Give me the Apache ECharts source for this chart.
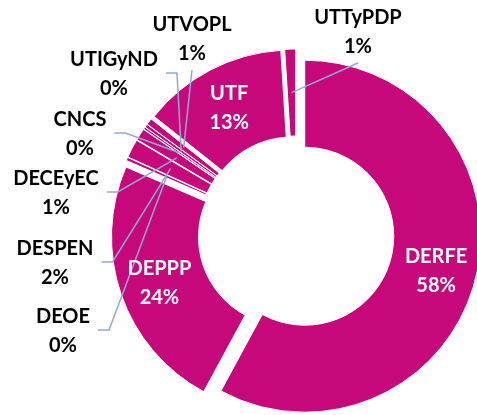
<!DOCTYPE html>
<html><head><meta charset="utf-8">
<script src="https://cdn.jsdelivr.net/npm/echarts@6/dist/echarts.min.js"></script>
<style>html,body{margin:0;padding:0;background:#fff}#c{width:477px;height:415px}</style>
</head><body><div id="c"></div>
<script>
// ---- data ----
const categories = ['DERFE','DEPPP','DEOE','DESPEN','DECEyEC','CNCS','UTIGyND','UTVOPL','UTF','UTTyPDP'];
const values = [57.9, 23.6, 0.3, 1.7, 1.1, 0.2, 0.3, 0.6, 13.3, 1.0];

// ---- layout / style ----
const CX = 296, CY = 234, R_IN = 89, R_OUT = 176, OFFSET = 9;
const labelPos = {
  UTTyPDP: [358, 32], UTVOPL: [192, 39], UTIGyND: [114, 74], CNCS: [80, 134],
  DECEyEC: [56, 193], DESPEN: [55, 263], DEOE: [63, 331]
};
const MAGENTA = '#C7087A', LEADER = '#8EAADB', FONT = 'Lato';

const total = values.reduce((a, b) => a + b, 0);
function midAngle(i) {
  let before = 0;
  for (let k = 0; k < i; k++) before += values[k];
  return (before + values[i] / 2) / total * 2 * Math.PI;
}
function anchor(i) {
  const mid = midAngle(i);
  const rm = (R_IN + R_OUT) / 2;
  return [CX + (rm + OFFSET) * Math.sin(mid), CY - (rm + OFFSET) * Math.cos(mid)];
}

const chart = echarts.init(document.getElementById('c'), null, {renderer: 'canvas'});
const common = {
  type: 'pie', center: [CX, CY], radius: [R_IN, R_OUT],
  startAngle: 90, clockwise: true, avoidLabelOverlap: false, minShowLabelAngle: 0,
  emphasis: {disabled: true}
};
chart.setOption({
  animation: false,
  backgroundColor: '#fff',
  series: [
    // exploded donut slices
    Object.assign({}, common, {
      z: 2,
      selectedMode: 'multiple',
      selectedOffset: OFFSET,
      itemStyle: {color: MAGENTA, borderColor: '#fff', borderWidth: 1},
      select: {itemStyle: {color: MAGENTA, borderColor: '#fff', borderWidth: 1}},
      label: {show: false}, labelLine: {show: false},
      data: categories.map((n, i) => ({name: n, value: values[i], selected: true}))
    }),
    // labels and leader lines
    Object.assign({}, common, {
      z: 10,
      silent: true,
      itemStyle: {color: 'rgba(0,0,0,0)', borderWidth: 0},
      label: {
        fontFamily: FONT, fontWeight: 'bold', fontSize: 20, lineHeight: 29,
        formatter: p => p.name + '\n' + Math.round(p.percent) + '%'
      },
      labelLine: {show: true, lineStyle: {color: LEADER, width: 1.5}},
      data: categories.map((n, i) => {
        const inside = values[i] / total > 0.05;
        return {
          name: n, value: values[i],
          label: inside ? {position: 'inside', color: '#fff'} : {position: 'outside', color: '#000'},
          labelLine: {show: !inside}
        };
      }),
      labelLayout: function (p) {
        const i = p.dataIndex;
        const name = categories[i];
        const pos = labelPos[name];
        if (!pos) {
          const mid = midAngle(i);
          return {dx: OFFSET * Math.sin(mid), dy: -OFFSET * Math.cos(mid) + 2};
        }
        const w = p.labelRect.width, h = p.labelRect.height;
        const a = anchor(i);
        let pts;
        if (name === 'UTTyPDP' || name === 'UTVOPL') {
          const e = [pos[0], pos[1] + h / 2 + 2];
          pts = [a, e, e];
        } else {
          const ax = pos[0] + w / 2 + 8, ay = pos[1] - 1;
          pts = [a, [ax + 11, ay], [ax, ay]];
        }
        return {x: pos[0], y: pos[1], align: 'center', verticalAlign: 'middle', labelLinePoints: pts};
      }
    })
  ]
});
</script>
</body></html>
